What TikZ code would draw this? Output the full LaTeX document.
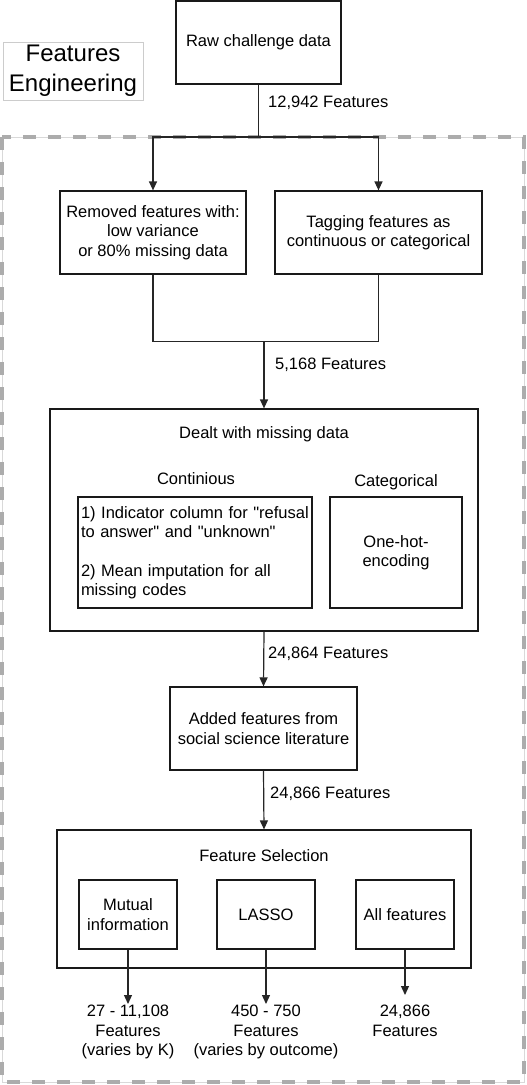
\documentclass[tikz,border=0pt]{standalone}
\usepackage{fontspec}
\setmainfont{Liberation Sans}
\usetikzlibrary{arrows.meta}

\tikzset{
  box/.style={draw=black!90, line width=1.2pt, align=center, inner sep=2pt},
  lbl/.style={anchor=west, inner sep=0pt},
  flow/.style={line width=1.2pt, draw=black!85, -{Triangle[length=9pt,width=8pt]}},
  link/.style={line width=1.2pt, draw=black!85}
}

\begin{document}
\begin{tikzpicture}[x=1pt,y=-1pt,font=\fontsize{16.5}{19.5}\selectfont]

    \useasboundingbox (0,0) rectangle (527,1085);

    % grey dashed frame round the engineering steps
    \draw[line width=0.6pt, gray!30] (2,137) rectangle (524,1082);
    \draw[line width=4pt, gray!65, dash pattern=on 13pt off 12pt] (2,137) rectangle (524,1082);

    % title in the upper left corner
    \node[draw=gray!40, line width=0.6pt, minimum width=140pt, minimum height=58pt,
          align=center, inner sep=0pt, font=\fontsize{24}{30}\selectfont]
          (title) at (73,71) {Features\\Engineering};

    % first steps
    \node[box, minimum width=165pt, minimum height=83pt] (raw) at (258.5,42.5) {Raw challenge data};
    \node[box, minimum width=186pt, minimum height=83pt] (removed) at (153,232.5)
          {Removed features with:\\low variance\\ or 80\% missing data};
    \node[box, minimum width=207pt, minimum height=83pt] (tagging) at (378.5,232.5)
          {Tagging features as\\continuous or categorical};

    \coordinate (split) at (258.5,137);
    \coordinate (join) at (264,341.5);
    \draw[link] (raw.south) -- (split);
    \draw[flow] (split) -| (removed.north);
    \draw[flow] (split) -| (tagging.north);
    \node[lbl] (n1) at (268,103) {12,942 Features};

    \draw[link] (removed.south) |- (join);
    \draw[link] (tagging.south) |- (join);

    % missing data block
    \node[box, minimum width=428pt, minimum height=222pt] (missing) at (264,520) {};
    \node (missingtitle) at (264,434) {Dealt with missing data};
    \node (conthead) at (196,479) {Continious};
    \node (cathead) at (396,482) {Categorical};
    \node[box, minimum width=234pt, minimum height=111pt, text width=228pt, align=left,
          inner sep=3pt] (cont) at (195,552.5)
          {1) Indicator column for \textquotedbl refusal\\to answer\textquotedbl{} and \textquotedbl unknown\textquotedbl\\[19pt]
           2) Mean imputation for all\\missing codes};
    \node[box, minimum width=132pt, minimum height=111pt] (cat) at (396,552.5)
          {One-hot-\\encoding};

    \draw[flow] (join) -- (missing.north);
    \node[lbl] (n2) at (275,365) {5,168 Features};

    % literature features
    \node[box, minimum width=187pt, minimum height=83pt] (added) at (263.5,728.5)
          {Added features from\\social science literature};
    \draw[flow] (missing.south) -- (added.north);
    \node[lbl] (n3) at (268,654) {24,864 Features};

    % feature selection block
    \node[box, minimum width=414pt, minimum height=138pt] (selection) at (264,899) {};
    \node (selectiontitle) at (264,856) {Feature Selection};
    \draw[flow] (added.south) -- (selection.north);
    \node[lbl] (n4) at (270,794) {24,866 Features};

    \foreach \n/\x/\txt in {mutual/128/{Mutual\\information}, lasso/266/{LASSO}, all/405/{All features}} {
      \node[box, minimum width=98pt, minimum height=69pt] (\n) at (\x,914.5) {\txt};
    }

    \node[align=center, anchor=north, inner sep=1pt] (mutualout) at (128,1004)
          {27 - 11,108\\Features\\(varies by K)};
    \node[align=center, anchor=north, inner sep=1pt] (lassoout) at (266,1004)
          {450 - 750\\Features\\(varies by outcome)};
    \node[align=center, anchor=north, inner sep=1pt] (allout) at (405,1004)
          {24,866\\Features};

    \draw[flow] (mutual.south) -- (mutualout.north);
    \draw[flow] (lasso.south) -- (lassoout.north);
    \draw[flow, shorten >=9pt] (all.south) -- (allout.north);

\end{tikzpicture}
\end{document}
